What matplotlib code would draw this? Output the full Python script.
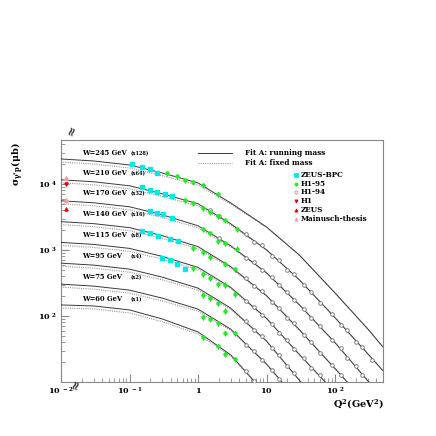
import matplotlib
matplotlib.use('Agg')
import matplotlib.pyplot as plt
import numpy as np
from matplotlib.ticker import FixedLocator, NullFormatter, FixedFormatter

plt.rcParams['font.family'] = ['DejaVu Serif']
plt.rcParams['font.weight'] = 'bold'
plt.rcParams['mathtext.fontset'] = 'dejavuserif'

# ---------------- data ----------------
W_values = [60, 75, 95, 115, 140, 170, 210, 245]
scale_factors = [1, 2, 4, 8, 16, 32, 64, 128]

fit_q2 = [0.01, 0.03, 0.1, 0.3, 1, 3, 10, 30, 100, 300, 500]
fit_run_W60 = [147, 142, 123.5, 90.2, 57.3, 25.7, 6.36, 1.58]
fit_run_W75 = [152, 141.8, 123.3, 93.3, 63.5, 31.6, 9.33, 2.48]
fit_run_W95 = [158, 147.4, 128.2, 97.0, 66.0, 32.9, 10.4, 2.67, 0.660]
fit_run_W115 = [163, 152.0, 132.2, 100.0, 68.1, 33.9, 11.5, 3.27, 0.870]
fit_run_W140 = [168, 156.7, 136.3, 103.1, 70.2, 34.9, 12.7, 3.88, 0.995, 0.284]
fit_run_W170 = [174, 162.3, 141.1, 106.8, 72.7, 36.2, 14.1, 4.62, 1.23, 0.326, 0.180]
fit_run_W210 = [181, 168.8, 146.8, 111.1, 78.4, 39.0, 15.7, 5.53, 1.47, 0.418, 0.231]
fit_run_W245 = [187, 174.4, 151.7, 114.8, 81.0, 40.3, 17.4, 6.57, 1.74, 0.497, 0.265]
fit_run = [fit_run_W60, fit_run_W75, fit_run_W95, fit_run_W115,
           fit_run_W140, fit_run_W170, fit_run_W210, fit_run_W245]
# fixed-mass fit relative to running-mass fit, read at fit_q2
fixed_mass_ratio = [0.90, 0.90, 0.90, 0.91, 0.93, 0.96, 0.99, 1.0, 1.0, 1.0, 1.0]

# ZEUS-BPC
bpc_q2 = {245: [0.109, 0.152, 0.199, 0.252],
          210: [0.152, 0.199, 0.252, 0.330, 0.417],
          170: [0.199, 0.252, 0.308, 0.417],
          140: [0.152, 0.199, 0.261, 0.390, 0.511],
          115: [0.298, 0.390, 0.494, 0.646]}
bpc_sig = {245: [157.0, 141.4, 131.8, 114.7],
           210: [140.7, 126.7, 118.2, 110.2, 102.8],
           170: [121.8, 113.6, 109.7, 95.4],
           140: [121.3, 113.1, 101.9, 91.7, 85.5],
           115: [94.6, 88.2, 76.7, 64.4]}

# H1-95
h195_q2 = {245: [0.353, 0.494, 0.646, 0.845, 1.18, 1.96],
           210: [0.646, 0.845, 1.18, 1.50, 1.96, 2.48, 3.71],
           170: [1.18, 1.50, 1.96, 2.48, 3.71],
           140: [0.845, 1.18, 1.50, 2.48, 3.47],
           115: [0.845, 1.18, 1.50, 1.96, 2.48, 3.47],
           95: [1.18, 1.50, 1.96, 2.48],
           75: [1.18, 1.50, 1.96, 2.48, 3.47],
           60: [1.18, 1.96, 2.48, 3.47]}
h195_sig = {245: [114.7, 103.3, 89.8, 83.8, 75.4, 55.1],
            210: [89.4, 80.5, 67.6, 58.8, 51.2, 44.5, 32.5],
            170: [65.0, 56.5, 42.8, 39.9, 32.4],
            140: [67.0, 58.3, 49.0, 38.4, 32.2],
            115: [66.7, 54.1, 47.1, 38.2, 36.9, 26.9],
            95: [52.0, 46.8, 39.3, 29.8],
            75: [48.3, 45.0, 39.2, 27.6, 27.6],
            60: [48.1, 35.1, 26.6, 22.3]}

# H1-94
h194_q2 = {210: [1.5, 2, 5, 6.5, 8.5, 12, 15, 20, 25, 35, 45, 60, 90, 120, 150, 200, 250, 350],
           170: [2, 5, 6.5, 8.5, 12, 15, 20, 25, 35, 45, 60, 90, 120, 150, 200, 250],
           140: [5, 6.5, 8.5, 12, 15, 20, 25, 35, 45, 60, 90, 120],
           115: [5, 6.5, 8.5, 12, 15, 20, 25, 35, 45, 60],
           95: [5, 6.5, 8.5, 12, 15, 20, 25],
           75: [5, 6.5, 8.5, 12, 15],
           60: [5, 6.5]}
h194_sig = {210: [63, 52, 27.5, 21.0, 18.3, 12.8, 11.0, 7.9, 6.8, 4.55, 3.62, 2.50, 1.70,
                  1.15, 0.95, 0.64, 0.53, 0.34],
            170: [48, 23.6, 20.4, 15.5, 12.1, 9.1, 7.2, 5.4, 4.0, 2.88, 2.22, 1.34, 1.01,
                  0.73, 0.55, 0.40],
            140: [23.4, 17.7, 15.0, 10.1, 8.4, 5.85, 4.85, 3.17, 2.52, 1.72, 1.15, 0.79],
            115: [20.8, 17.4, 12.9, 9.6, 7.0, 5.35, 3.92, 2.84, 2.03, 1.57],
            95: [20.8, 15.2, 12.6, 8.05, 6.5, 4.30, 3.45],
            75: [18.2, 15.0, 10.7, 7.7, 5.55],
            60: [14.6, 10.3]}

# photoproduction (plotted at small Q2)
photo_q2 = 0.012
h1_photo = {210: 156}
zeus_photo = {170: 131}
mainusch_photo = {210: 193, 170: 179}

# ---------------- figure ----------------
fig = plt.figure(figsize=(4.36, 4.36), dpi=100)
ax = fig.add_axes([61/436, 54/436, 322/436, 242/436])
ax.set_xscale('log')
ax.set_yscale('log')
ax.set_xlim(0.01, 500)
ax.set_ylim(10, 46400)

line_c = '#3a3a3a'
for k, vals in enumerate(fit_run):
    f = scale_factors[k]
    q = np.array(fit_q2[:len(vals)])
    v = np.array(vals) * f
    r = np.array(fixed_mass_ratio[:len(vals)])
    ax.plot(q, v * r, color='#9a9a9a', lw=0.8, ls=(0, (1, 1)), zorder=2)
    ax.plot(q, v, color=line_c, lw=0.7, zorder=3)

fidx = dict(zip(W_values, scale_factors))

for W, q in h194_q2.items():
    s = np.array(h194_sig[W]) * fidx[W]
    ax.errorbar(q, s, yerr=0.05 * s, fmt='o', ms=2.6, mfc='white', mec='#707070',
                mew=0.6, ecolor='#707070', elinewidth=0.5, capsize=0, zorder=4)
for W, q in h195_q2.items():
    s = np.array(h195_sig[W]) * fidx[W]
    ax.errorbar(q, s, yerr=0.09 * s, fmt='o', ms=2.2, mfc='#22ee22', mec='#22ee22',
                ecolor='#404040', elinewidth=0.5, capsize=0, zorder=5)
for W, q in bpc_q2.items():
    s = np.array(bpc_sig[W]) * fidx[W]
    ax.errorbar(q, s, yerr=0.05 * s, fmt='s', ms=2.2, mfc='#00e8e8', mec='#00e8e8',
                ecolor='#00c8c8', elinewidth=0.6, capsize=0, zorder=5)
for W, v in h1_photo.items():
    ax.errorbar([photo_q2], [v * fidx[W]], yerr=[0.06 * v * fidx[W]], fmt='v', ms=2.2,
                color='#e00000', elinewidth=0.5, zorder=6)
for W, v in zeus_photo.items():
    ax.errorbar([photo_q2], [v * fidx[W]], yerr=[0.06 * v * fidx[W]], fmt='^', ms=2.2,
                color='#e00000', elinewidth=0.5, zorder=6)
for W, v in mainusch_photo.items():
    ax.errorbar([photo_q2], [v * fidx[W]], yerr=[0.05 * v * fidx[W]], fmt='^', ms=2.8,
                color='#f2a0a0', elinewidth=0.5, zorder=6)

# W labels
label_y = [0.343, 0.434, 0.521, 0.607, 0.694, 0.781, 0.864, 0.946]
for k, W in enumerate(W_values):
    ax.text(0.065, label_y[k], 'W=%d GeV' % W, transform=ax.transAxes,
            fontsize=4.9, fontweight='bold', va='center', ha='left')
    ax.text(0.217, label_y[k] - 0.003, '(x%d)' % scale_factors[k], transform=ax.transAxes,
            fontsize=3.6, fontweight='bold', va='center', ha='left')

# legend
ax.plot([0.4255, 0.531], [0.946, 0.946], color=line_c, lw=0.7, transform=ax.transAxes)
ax.plot([0.4255, 0.531], [0.905, 0.905], color='#9a9a9a', lw=0.8, ls=(0, (1, 1)),
        transform=ax.transAxes)
ax.text(0.571, 0.946, 'Fit A: running mass', transform=ax.transAxes, fontsize=5.2,
        va='center', fontweight='bold')
ax.text(0.571, 0.905, 'Fit A: fixed mass', transform=ax.transAxes, fontsize=5.2,
        va='center', fontweight='bold')
leg_items = [('ZEUS-BPC', 's', '#00e8e8', '#00e8e8'),
             ('H1-95', 'o', '#22ee22', '#22ee22'),
             ('H1-94', 'o', 'white', '#f08080'),
             ('H1', 'v', '#e00000', '#e00000'),
             ('ZEUS', '^', '#e00000', '#e00000'),
             ('Mainusch-thesis', '^', '#f2a0a0', '#f2a0a0')]
leg_y = [0.855, 0.820, 0.785, 0.748, 0.711, 0.674]
for (name, m, fc, ec), yy in zip(leg_items, leg_y):
    ax.plot([0.731], [yy], marker=m, ms=2.2, mfc=fc, mec=ec, mew=0.6, ls='none',
            transform=ax.transAxes)
    ax.text(0.745, yy, name, transform=ax.transAxes, fontsize=5.2, va='center',
            fontweight='bold')

# axes styling
for sp in ax.spines.values():
    sp.set_color('#888888')
    sp.set_linewidth(0.8)
ax.tick_params(which='both', direction='in', top=False, right=False, colors='#888888',
               labelcolor='black')
ax.tick_params(which='major', length=6, width=0.8, pad=3)
ax.tick_params(which='minor', length=3, width=0.6)

ax.xaxis.set_major_locator(FixedLocator([0.01, 0.1, 1, 10, 100]))
ax.xaxis.set_major_formatter(FixedFormatter([r'$\mathbf{10^{\ -2}}$', r'$\mathbf{10^{\ -1}}$',
                                             r'$\mathbf{1}$', r'$\mathbf{10}$', r'$\mathbf{10^{\ 2}}$']))
xminor = [m * 10.0 ** e for e in range(-2, 3) for m in range(2, 10) if m * 10.0 ** e <= 500]
ax.xaxis.set_minor_locator(FixedLocator(xminor))
ax.xaxis.set_minor_formatter(NullFormatter())

ax.yaxis.set_major_locator(FixedLocator([100, 1000, 10000]))
ax.yaxis.set_major_formatter(FixedFormatter([r'$\mathbf{10^{\ 2}}$', r'$\mathbf{10^{\ 3}}$',
                                             r'$\mathbf{10^{\ 4}}$']))
yminor = [m * 10.0 ** e for e in range(1, 5) for m in range(2, 10) if m * 10.0 ** e <= 46400]
ax.yaxis.set_minor_locator(FixedLocator(yminor))
ax.yaxis.set_minor_formatter(NullFormatter())
for lab in ax.get_xticklabels() + ax.get_yticklabels():
    lab.set_fontsize(5.8)

ax.set_xlabel(r'$\mathbf{Q^{2}(GeV^{2})}$', fontsize=7, labelpad=2)
ax.xaxis.set_label_coords(0.925, -0.065)
ax.set_ylabel(r'$\mathbf{\sigma_{\gamma^{*}p}(\mu b)}$', fontsize=7)
ax.yaxis.set_label_coords(-0.11, 0.9)

# axis-break marks
fig.text(72/436, 1 - 130/436, '\u2248', fontsize=9, rotation=70, ha='center', va='center',
         color='#333333')
fig.text(76/436, 1 - 384/436, '\u2248', fontsize=9, rotation=70, ha='center', va='center',
         color='#333333')

fig.savefig('out.png', dpi=100, facecolor='white')
